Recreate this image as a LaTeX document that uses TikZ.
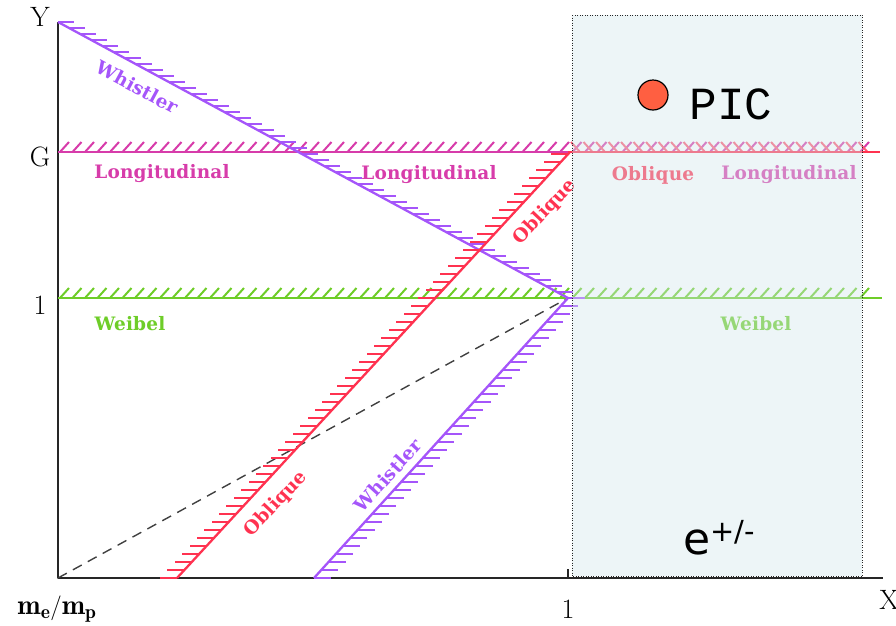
\documentclass[tikz,border=0pt]{standalone}
\usepackage{fontspec}
\usetikzlibrary{calc}
\newfontfamily\labfont[LetterSpace=1]{DejaVu Serif}
\newfontfamily\picfont{Liberation Mono}
\newfontfamily\esans{DejaVu Sans}
\definecolor{whis}{RGB}{165,85,250}
\definecolor{longi}{RGB}{215,60,170}
\definecolor{obl}{RGB}{255,50,80}
\definecolor{weib}{RGB}{110,205,40}
\definecolor{boxfill}{RGB}{210,230,235}
\definecolor{picred}{RGB}{255,95,65}
\tikzset{
  axisline/.style={line width=1.6pt, black!85},
  curveline/.style={line width=2.3pt},
  hatchmark/.style={line width=2pt},
  lab/.style={font={\fontsize{18.5}{18.5}\selectfont\labfont\bfseries}, inner sep=0pt},
  axlab/.style={font={\fontsize{28}{28}\selectfont}, inner sep=0pt},
}
\begin{document}
\begin{tikzpicture}[x=1pt,y=-1pt,line join=round]
\useasboundingbox (0,0) rectangle (896,625);
% key points
\coordinate (O) at (58,578);
\coordinate (Ytop) at (58,22);
\coordinate (Xend) at (883,578);
\coordinate (one) at (568,298);
\coordinate (gl) at (58,152);
\coordinate (gm) at (568,152);
\coordinate (gr) at (880,152);
\coordinate (wl) at (58,298);
\coordinate (wr) at (882,298);
\coordinate (ob1) at (177,578);
\coordinate (ob2) at (570,152);
\coordinate (wh1) at (314,578);
\coordinate (tick) at (568,569);
\coordinate (tickb) at (568,578);
% axes
\draw[axisline] (Ytop) -- (O) -- (Xend);
\draw[axisline] (tickb) -- (tick);
% dashed
\draw[line width=1.4pt, black!75, dash pattern=on 10pt off 7pt] (O) -- (one);
% Weibel line
\foreach \x in {60,72.5,...,872} \draw[hatchmark,weib] (\x,298) -- ++(9,-10);
\draw[curveline,weib] (wl) -- (wr);
% G line
\foreach \x in {60,72.5,...,870} \draw[hatchmark,longi] (\x,152) -- ++(9,-10);
\foreach \x in {580,592.5,...,872} \draw[hatchmark,obl!80] (\x,152) -- ++(-9,-10);
\draw[curveline,longi] (gl) -- (gm);
\draw[curveline,obl] (gm) -- (gr);
% top whistler (hatch rows at whole pixels)
\foreach \y in {22,28,...,298} \draw[hatchmark,whis] ($(Ytop)!{(\y-22)/276}!(one)$) -- ++(16,0);
\draw[curveline,whis] (Ytop) -- (one);
% oblique
\foreach \y in {578,570,...,154} \draw[hatchmark,obl] ($(ob1)!{(578-\y)/426}!(ob2)$) -- ++(-17,0);
\draw[curveline,obl] (ob1) -- (ob2);
% lower whistler
\foreach \y in {578,570,...,298} \draw[hatchmark,whis] ($(wh1)!{(578-\y)/280}!(one)$) -- ++(17,0);
\draw[curveline,whis] (wh1) -- (one);
% labels
\node[lab,text=whis,rotate=-28.4] (lw1) at (137,87) {Whistler};
\node[lab,text=longi] (ll1) at (162,174) {Longitudinal};
\node[lab,text=longi] (ll2) at (429,175) {Longitudinal};
\node[lab,text=longi] (ll3) at (789,175) {Longitudinal};
\node[lab,text=obl] (lo3) at (653,175) {Oblique};
\node[lab,text=weib] (lwb1) at (130,324) {Weibel};
\node[lab,text=weib] (lwb2) at (756,324) {Weibel};
\node[lab,text=obl,rotate=46.6] (lo1) at (545,212) {Oblique};
\node[lab,text=obl,rotate=46.6] (lo2) at (276,504) {Oblique};
\node[lab,text=whis,rotate=47.8] (lw2) at (388,475) {Whistler};
% box
\node[anchor=north west, minimum width=290pt, minimum height=561pt, inner sep=0pt,
      fill=boxfill, fill opacity=0.4] (box) at (572,15) {};
\draw[line width=1pt, black!85, dash pattern=on 1pt off 1.5pt] (box.north west) rectangle (box.south east);
% PIC
\node[circle, draw, line width=1.2pt, fill=picred, minimum size=30pt, inner sep=0pt] (dot) at (653,95) {};
\node[font={\fontsize{46}{46}\selectfont\picfont}, inner sep=0pt] (pic) at (731,104) {PIC};
\node[font={\fontsize{44}{44}\selectfont\esans}, inner sep=0pt] (epm) at (719,538) {e\raisebox{0.3em}{\fontsize{29}{29}\selectfont +/-}};
% axis labels
\node[axlab] (ylab) at (40,17) {Y};
\node[axlab] (glab) at (40,157) {G};
\node[axlab] (onelab) at (40,305) {1};
\node[axlab] (onexlab) at (568,609) {1};
\node[axlab] (xlab) at (889,600) {X};
\node[axlab] (mlab) at (57,609) {$\mathbf{m_e/m_p}$};
\end{tikzpicture}
\end{document}
